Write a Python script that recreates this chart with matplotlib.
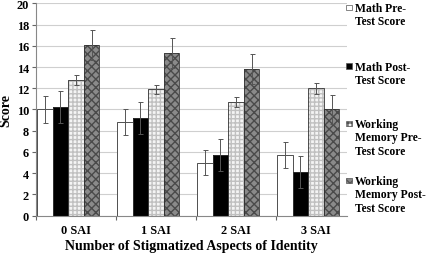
import numpy as np
import matplotlib.pyplot as plt
from matplotlib.patches import Rectangle

plt.rcParams['font.family'] = ['Liberation Serif', 'DejaVu Serif']
plt.rcParams['font.weight'] = 'bold'
plt.rcParams['axes.labelweight'] = 'bold'

categories = ['0 SAI', '1 SAI', '2 SAI', '3 SAI']
series = ['Math Pre-\nTest Score', 'Math Post-\nTest Score',
          'Working\nMemory Pre-\nTest Score', 'Working\nMemory Post-\nTest Score']
math_pre = [10.0, 8.8, 5.0, 5.7]
math_post = [10.2, 9.2, 5.7, 4.1]
wm_pre = [12.8, 11.9, 10.7, 12.0]
wm_post = [16.1, 15.3, 13.8, 10.0]
err_math_pre = [1.3, 1.2, 1.2, 1.2]
err_math_post = [1.5, 1.5, 1.5, 1.5]
err_wm_pre = [0.45, 0.45, 0.5, 0.5]
err_wm_post = [1.4, 1.4, 1.4, 1.4]

values = [math_pre, math_post, wm_pre, wm_post]
errors = [err_math_pre, err_math_post, err_wm_pre, err_wm_post]
faces = ['white', 'black', '#f4f4f4', '#8a8a8a']
hatches = [None, None, '++++', 'xxxx']
hatch_cols = ['white', 'black', '#c0c0c0', '#4a4a4a']

fig = plt.figure(figsize=(4.27, 2.55), dpi=100)
ax = fig.add_axes([36 / 427, 1 - 216.7 / 255, 311 / 427, 212.4 / 255])

x = np.arange(len(categories))
w = 0.195
for k in range(4):
    left = x - 0.5 + 0.0125 + k * w
    ax.bar(left, values[k], w, align='edge', color=faces[k], hatch=hatches[k],
           edgecolor=hatch_cols[k], linewidth=0, zorder=2)
    ax.bar(left, values[k], w, align='edge', fill=False, edgecolor='#333333',
           linewidth=0.6, zorder=3)
    ax.errorbar(left + w / 2, values[k], yerr=errors[k], fmt='none',
                ecolor='#555555', elinewidth=0.7, capsize=1.8, capthick=0.7, zorder=4)

ax.set_xlim(-0.5, 3.3875)
ax.set_ylim(0, 20)
ax.set_yticks(np.arange(0, 21, 2))
ax.yaxis.grid(True, color='#cfcfcf', linewidth=0.8, zorder=0)
ax.set_axisbelow(True)
ax.set_xticks([-0.5, 0.5, 1.5, 2.5])
ax.set_xticklabels([])
ax.set_xticks(x, minor=True)
ax.set_xticklabels(categories, minor=True)
ax.tick_params(axis='x', which='minor', length=0, pad=6, labelsize=8.8)
ax.tick_params(axis='x', which='major', length=3, color='#666666')
ax.tick_params(axis='y', length=3, color='#666666', labelsize=8.8, pad=2)
for s in ['top', 'right']:
    ax.spines[s].set_visible(False)
for s in ['left', 'bottom']:
    ax.spines[s].set_color('#888888')
    ax.spines[s].set_linewidth(0.8)

ax.set_ylabel('Score', fontsize=10)
ax.yaxis.set_label_coords(-0.077, 0.5)
ax.set_xlabel('Number of Stigmatized Aspects of Identity', fontsize=10)
ax.xaxis.set_label_coords(0.5, -0.112)

# legend drawn by hand so the marker sits on the first text line
leg_y = [9, 68, 125, 182]
for k in range(4):
    yy = 1 - leg_y[k] / 255
    fig.patches.append(Rectangle((346.5 / 427, yy - 2 / 255), 5.5 / 427, 5.5 / 255,
                                 transform=fig.transFigure, facecolor=faces[k],
                                 hatch=hatches[k], edgecolor='#555555', linewidth=0.5))
    fig.text(355 / 427, yy + 6 / 255, series[k], fontsize=8.4, va='top', ha='left',
             linespacing=1.16)

fig.savefig('out.png', dpi=100)
